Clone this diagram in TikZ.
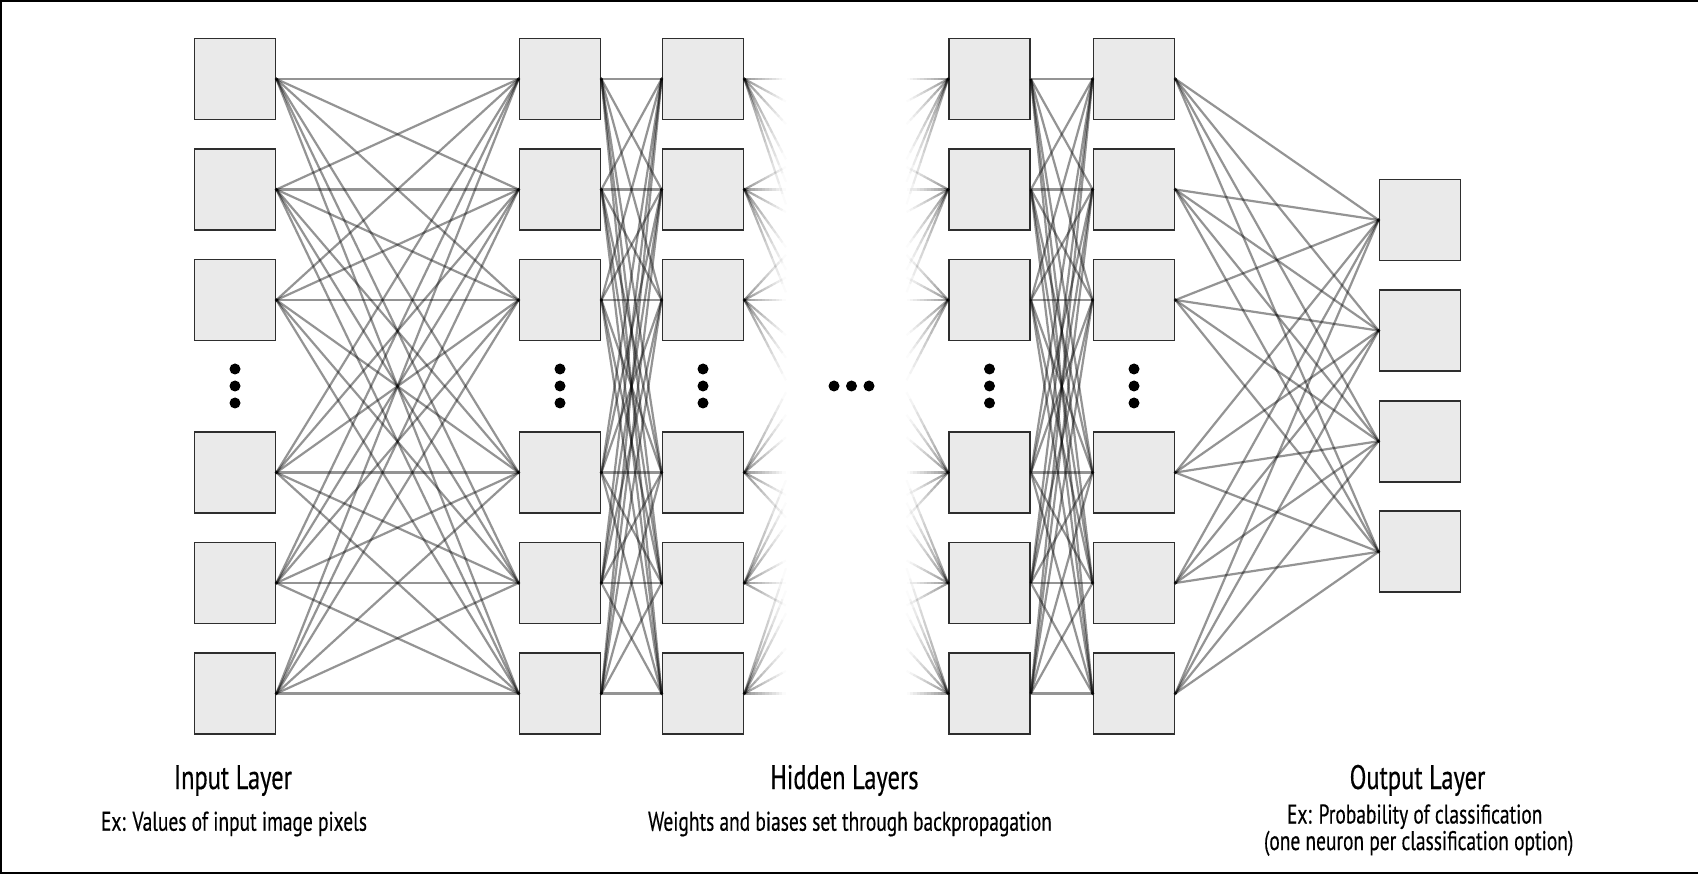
\documentclass[tikz,border=0pt]{standalone}
\usepackage{fontspec}
\setmainfont{PT Sans}[FakeStretch=0.72, FakeBold=0.4]
\usetikzlibrary{calc}
\definecolor{boxfill}{HTML}{EAEAEA}
\definecolor{boxline}{HTML}{2E2E2E}
\tikzset{
  neuron/.style={shape=rectangle, draw=boxline, fill=boxfill, line width=1.8pt,
    minimum width=81pt, minimum height=81pt, inner sep=0pt},
  link/.style={draw=black, draw opacity=0.42, line width=2.2pt},
  fdot/.style={circle, fill=black, inner sep=0pt, minimum size=11pt},
  jdot/.style={fill=black, fill opacity=0.8},
  title/.style={font=\fontsize{34}{40}\selectfont, anchor=base, inner sep=0pt},
  sub/.style={font=\fontsize{27}{32}\selectfont, anchor=base, inner sep=0pt},
  frame/.style={draw=black, line width=2pt}
}
\begin{document}
\begin{tikzpicture}[x=1pt, y=-1pt]
\useasboundingbox (0,0) rectangle (1698,874);
% frame (left, top, bottom)
\coordinate (fr-tr) at (1698,1);
\coordinate (fr-tl) at (1,1);
\coordinate (fr-bl) at (1,873);
\coordinate (fr-br) at (1698,873);
\draw[frame] (fr-tr) -- (fr-tl) -- (fr-bl) -- (fr-br);

% six-neuron columns
\foreach \c/\x in {in/235, ha/560, hb/703, hc/989.5, hd/1134} {
  \foreach \r/\y in {1/79, 2/189.5, 3/300, 4/472.5, 5/583, 6/693.5} {
    \node[neuron] (\c-\r) at (\x,\y) {};
  }
  \foreach \d/\y in {1/369, 2/386, 3/403} {
    \node[fdot] (\c-d\d) at (\x,\y) {};
  }
}
% output column
\foreach \r/\y in {1/220, 2/330.6, 3/441.2, 4/551.8} {
  \node[neuron] (out-\r) at (1420,\y) {};
}
% horizontal ellipsis
\foreach \d/\x in {1/834, 2/851.5, 3/869} {
  \node[fdot] (hdots-\d) at (\x,386) {};
}

% full connections
\foreach \a/\b in {in/ha, ha/hb, hc/hd} {
  \foreach \i in {1,...,6} {
    \foreach \j in {1,...,6} {
      \draw[link] (\a-\i.east) -- (\b-\j.west);
    }
  }
}
\foreach \i in {1,...,6} {
  \foreach \j in {1,...,4} {
    \draw[link] (hd-\i.east) -- (out-\j.west);
  }
}
% fading connections between hb and hc
\foreach \i in {1,...,6} {
  \foreach \j in {1,...,6} {
    \foreach \k in {0,...,11} {
      \pgfmathsetmacro\ta{\k*0.017}
      \pgfmathsetmacro\tb{(\k+1)*0.017}
      \pgfmathsetmacro\op{0.42*(1-(\k+0.5)/12)}
      \draw[link, draw opacity=\op] ($(hb-\i.east)!\ta!(hc-\j.west)$) -- ($(hb-\i.east)!\tb!(hc-\j.west)$);
      \draw[link, draw opacity=\op] ($(hc-\j.west)!\ta!(hb-\i.east)$) -- ($(hc-\j.west)!\tb!(hb-\i.east)$);
    }
  }
}
% junction dots
\foreach \c in {in, ha, hb, hd} {
  \foreach \r in {1,...,6} { \fill[jdot] (\c-\r.east) circle (1.8); }
}
\foreach \c in {ha, hb, hc, hd} {
  \foreach \r in {1,...,6} { \fill[jdot] (\c-\r.west) circle (1.8); }
}
\foreach \r in {1,...,4} { \fill[jdot] (out-\r.west) circle (1.8); }

% labels
\node[title] (t-in) at (233,789) {Input Layer};
\node[sub] (s-in) at (234,830.7) {Ex: Values of input image pixels};
\node[title] (t-hid) at (844.5,789) {Hidden Layers};
\node[sub] (s-hid) at (850,830.7) {Weights and biases set through backpropagation};
\node[title] (t-out) at (1417.5,789) {Output Layer};
\node[sub] (s-out1) at (1414.7,823.5) {Ex: Probability of classification};
\node[sub] (s-out2) at (1418.7,850) {(one neuron per classification option)};
\end{tikzpicture}
\end{document}
